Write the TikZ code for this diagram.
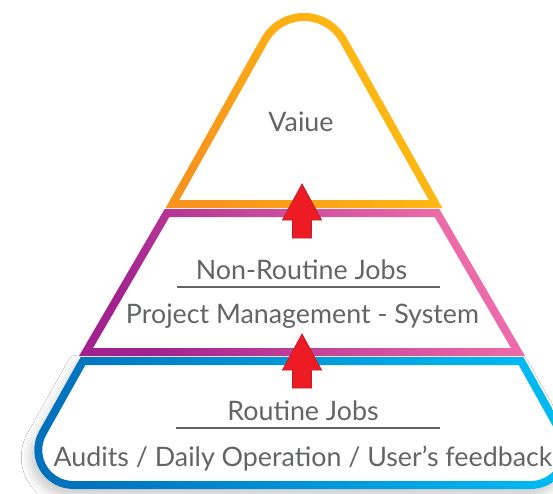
\documentclass[tikz,border=0pt]{standalone}
\usepackage{fontspec}
\setmainfont{Lato}
\usetikzlibrary{shadows.blur}
\definecolor{orangeC}{HTML}{F7941D}
\definecolor{yellowC}{HTML}{FFC20E}
\definecolor{purpleC}{HTML}{A1228E}
\definecolor{pinkC}{HTML}{F06EAA}
\definecolor{blueC}{HTML}{0072BC}
\definecolor{cyanC}{HTML}{00B9F2}
\definecolor{arrowC}{HTML}{ED1C24}
\definecolor{arrowD}{HTML}{BE1E2D}
\definecolor{textC}{HTML}{636466}
\tikzset{
  txt/.style={text=textC, font=\fontsize{26.8}{32}\selectfont, inner sep=0pt, anchor=base},
  uline/.style={draw=textC, line width=1.8pt},
  uparrow/.style={fill=arrowC, draw=arrowD, line width=0.8pt, line join=miter},
}
\begin{document}
\begin{tikzpicture}[x=1pt,y=1pt]
\useasboundingbox (0,0) rectangle (553,-493);
\clip (0,0) rectangle (553,-493);
\fill[white] (0,0) rectangle (553,-493);

% bottom layer
\fill[white, blur shadow={shadow xshift=-4pt, shadow yshift=-7pt, shadow blur radius=9pt, shadow opacity=20}]
  (80.65,-357) -- (39.27,-430.94) arc[start angle=150.75, end angle=270, radius=39pt]
  -- (530.7,-489) arc[start angle=270, end angle=389.25, radius=39pt] -- (523.35,-357) -- cycle;
\shade[even odd rule, top color=cyanC, bottom color=blueC, shading angle=-75]
  (80.65,-357) -- (39.27,-430.94) arc[start angle=150.75, end angle=270, radius=39pt]
  -- (530.7,-489) arc[start angle=270, end angle=389.25, radius=39pt] -- (523.35,-357) -- cycle
  (85.34,-365) -- (46.25,-434.85) arc[start angle=150.75, end angle=270, radius=31pt]
  -- (530.7,-481) arc[start angle=270, end angle=389.25, radius=31pt] -- (518.66,-365) -- cycle;

% middle layer
\shade[even odd rule, top color=pinkC, bottom color=purpleC, shading angle=-60]
  (164.7,-209) -- (439.3,-209) -- (525,-356) -- (79,-356) -- cycle
  (169.3,-217) -- (434.7,-217) -- (511,-348) -- (93,-348) -- cycle;

% top layer
\shade[even odd rule, top color=yellowC, bottom color=orangeC, shading angle=-60]
  (165.6,-208) -- (261.2,-38) arc[start angle=150.7, end angle=29.3, radius=49pt] -- (442.4,-208) -- cycle
  (179.3,-200) -- (268.2,-41.95) arc[start angle=150.7, end angle=29.3, radius=41pt] -- (428.7,-200) -- cycle;

% arrows
\draw[uparrow] (302,-184) -- (321.5,-220) -- (311.5,-220) -- (311.5,-238) -- (292.5,-238) -- (292.5,-220) -- (282.5,-220) -- cycle;
\draw[uparrow] (302,-334) -- (321.5,-370) -- (311.5,-370) -- (311.5,-388) -- (292.5,-388) -- (292.5,-370) -- (282.5,-370) -- cycle;

% texts
\node[txt] (value) at (301,-131) {Vaiue};
\node[txt] (nonroutine) at (301.5,-279) {Non-Routine Jobs};
\node[txt] (pms) at (302.5,-323) {Project Management - System};
\node[txt] (routine) at (303,-420) {Routine Jobs};
\node[txt] (audits) at (303,-466) {Audits / Daily Operation / User’s feedback};

\coordinate (u1a) at (177,-287);
\coordinate (u1b) at (440,-287);
\coordinate (u2a) at (176,-428);
\coordinate (u2b) at (440,-428);
\draw[uline] (u1a) -- (u1b);
\draw[uline] (u2a) -- (u2b);
\end{tikzpicture}
\end{document}
